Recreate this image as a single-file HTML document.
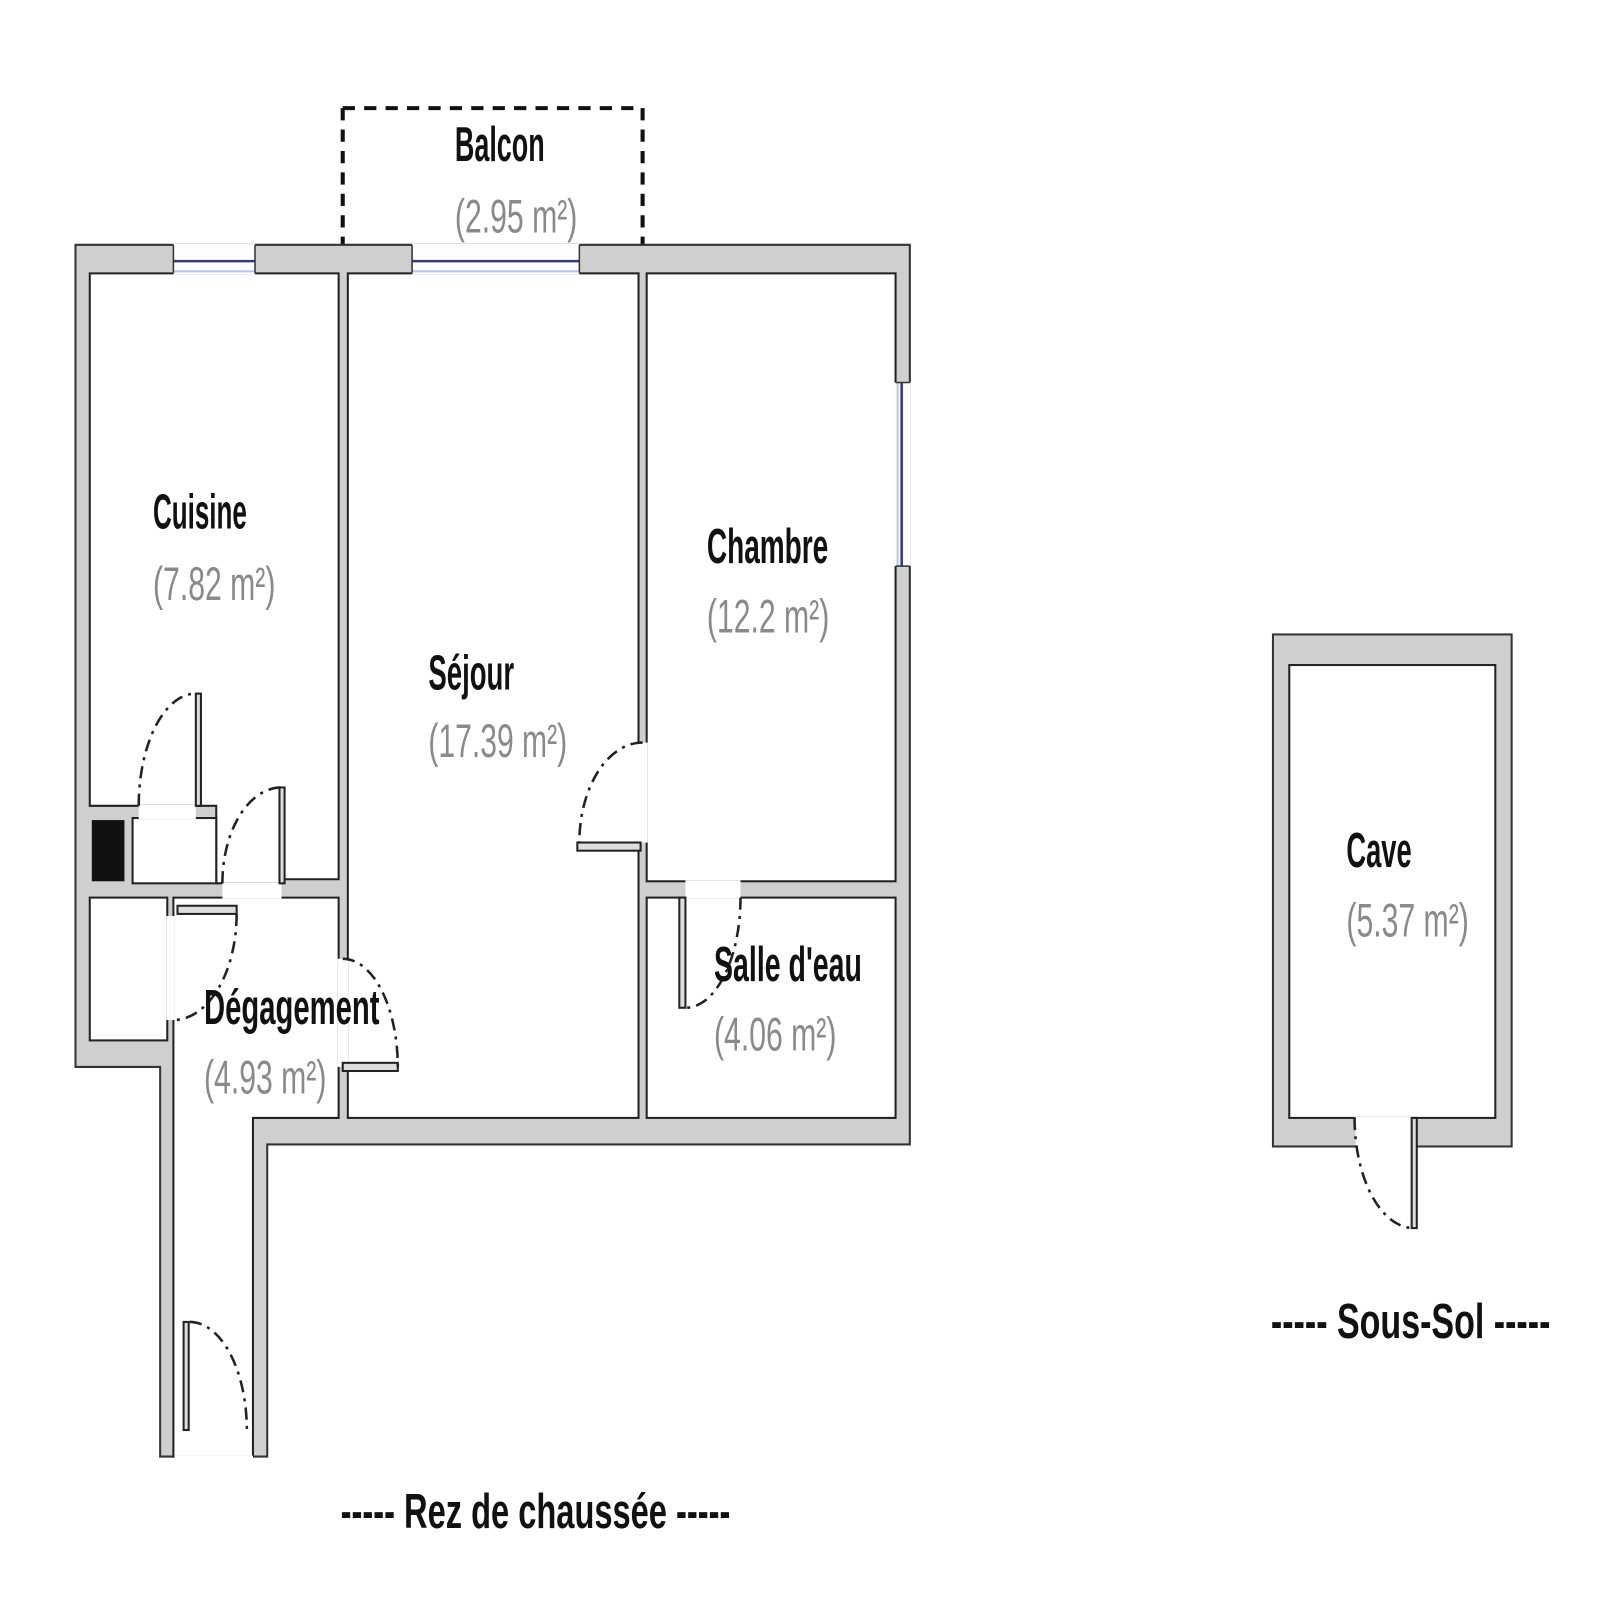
<!DOCTYPE html>
<html><head><meta charset="utf-8"><style>
html,body{margin:0;padding:0;background:#fff;}
svg{display:block}
text{font-family:"Liberation Sans Narrow","Liberation Sans",sans-serif;font-weight:bold;}
.g{fill:#8a8a8a;font-weight:normal}
</style></head><body>
<svg width="1600" height="1600" viewBox="0 0 1600 1600" xmlns="http://www.w3.org/2000/svg">
<rect width="1600" height="1600" fill="#fff"/>
<g transform="scale(1.02)">
<path d="M336 106 H630 M336 106 V240 M630 106 V240" fill="none" stroke="#111" stroke-width="4" stroke-dasharray="12 9"/>
<polygon points="74,240 892,240 892,1122 262,1122 262,1428 157,1428 157,1046 74,1046" fill="#cfcfcf" stroke="#333" stroke-width="2"/>
<g fill="#fff" stroke="#222" stroke-width="2">
<polygon points="88,268 332,268 332,862 278,862 278,866 212,866 212,790 88,790"/>
<rect x="341" y="268" width="285" height="828"/>
<rect x="634" y="268" width="244" height="596"/>
<rect x="634" y="880" width="244" height="216"/>
<polygon points="170,880 332,880 332,1096 248,1096 248,1428 170,1428"/>
<rect x="88" y="880" width="76" height="140"/>
<rect x="130" y="802" width="82" height="64"/>
</g>
<rect x="90" y="804" width="32" height="60" fill="#111"/>
<g fill="#fff">
<rect x="136" y="789" width="56" height="14"/>
<rect x="218" y="865" width="58" height="16"/>
<rect x="331" y="940" width="11" height="106"/>
<rect x="625" y="728" width="10" height="98"/>
<rect x="672" y="863" width="54" height="18"/>
<rect x="163" y="898" width="8" height="102"/>
<rect x="171" y="1427" width="77" height="3"/>
<rect x="1328" y="1095" width="58" height="28"/>
<rect x="170" y="239" width="80" height="30"/>
<rect x="404" y="239" width="164" height="30"/>
<rect x="877" y="375" width="16" height="180"/>
</g>
<g stroke="#3a3a7a" stroke-width="2.5">
<line x1="170" y1="256" x2="250" y2="256"/><line x1="404" y1="256" x2="568" y2="256"/>
<line x1="884" y1="375" x2="884" y2="555"/>
</g>
<g stroke="#bcc4ee" stroke-width="2">
<line x1="170" y1="266" x2="250" y2="266"/><line x1="404" y1="266" x2="568" y2="266"/>
<line x1="880" y1="375" x2="880" y2="555"/>
</g>
<g stroke="#333" stroke-width="1.5">
<line x1="170" y1="240" x2="170" y2="268"/><line x1="250" y1="240" x2="250" y2="268"/>
<line x1="404" y1="240" x2="404" y2="268"/><line x1="568" y1="240" x2="568" y2="268"/>
<line x1="878" y1="375" x2="892" y2="375"/><line x1="878" y1="555" x2="892" y2="555"/>
</g>
<rect x="1248" y="622" width="234" height="502" fill="#cfcfcf" stroke="#333" stroke-width="2"/>
<rect x="1264" y="652" width="202" height="444" fill="#fff" stroke="#222" stroke-width="2"/>
<rect x="1329" y="1095" width="56" height="30" fill="#fff"/>
<g fill="#ddd" stroke="#222" stroke-width="2">
<rect x="192" y="680" width="5" height="110"/>
<rect x="274" y="772" width="5" height="94"/>
<rect x="174" y="888" width="58" height="8"/>
<rect x="336" y="1042" width="54" height="8"/>
<rect x="566" y="826" width="62" height="8"/>
<rect x="666" y="880" width="6" height="108"/>
<rect x="180" y="1296" width="5" height="106"/>
<rect x="1384" y="1096" width="5" height="108"/>
</g>
<g fill="none" stroke="#222" stroke-width="2.5" stroke-dasharray="12 6 3 6">
<path d="M136 790 A56 110 0 0 1 192 680"/>
<path d="M218 866 A58 94 0 0 1 276 772"/>
<path d="M232 896 A62 104 0 0 1 170 1000"/>
<path d="M336 940 A54 106 0 0 1 390 1046"/>
<path d="M630 728 A62 98 0 0 0 568 826"/>
<path d="M726 880 A54 108 0 0 1 672 988"/>
<path d="M186 1296 A56 106 0 0 1 242 1402"/>
<path d="M1328 1096 A58 108 0 0 0 1386 1204"/>
</g>
<g font-size="48" fill="#111">
<text x="446" y="158" textLength="88" lengthAdjust="spacingAndGlyphs">Balcon</text>
<text x="150" y="518" textLength="92" lengthAdjust="spacingAndGlyphs">Cuisine</text>
<text x="693" y="552" textLength="119" lengthAdjust="spacingAndGlyphs">Chambre</text>
<text x="420" y="676" textLength="84" lengthAdjust="spacingAndGlyphs">Séjour</text>
<text x="700" y="962" textLength="145" lengthAdjust="spacingAndGlyphs">Salle d'eau</text>
<text x="200" y="1004" textLength="172" lengthAdjust="spacingAndGlyphs">Dégagement</text>
<text x="1320" y="850" textLength="64" lengthAdjust="spacingAndGlyphs">Cave</text>
<text x="1246" y="1312" textLength="274" lengthAdjust="spacingAndGlyphs">-----  Sous-Sol  -----</text>
<text x="334" y="1498" textLength="382" lengthAdjust="spacingAndGlyphs">-----  Rez de chaussée  -----</text>
</g>
<g font-size="46">
<text class="g" x="446" y="228" textLength="120" lengthAdjust="spacingAndGlyphs">(2.95 m²)</text>
<text class="g" x="150" y="588" textLength="120" lengthAdjust="spacingAndGlyphs">(7.82 m²)</text>
<text class="g" x="693" y="620" textLength="120" lengthAdjust="spacingAndGlyphs">(12.2 m²)</text>
<text class="g" x="420" y="742" textLength="136" lengthAdjust="spacingAndGlyphs">(17.39 m²)</text>
<text class="g" x="700" y="1030" textLength="120" lengthAdjust="spacingAndGlyphs">(4.06 m²)</text>
<text class="g" x="200" y="1072" textLength="120" lengthAdjust="spacingAndGlyphs">(4.93 m²)</text>
<text class="g" x="1320" y="918" textLength="120" lengthAdjust="spacingAndGlyphs">(5.37 m²)</text>
</g>
</g>
</svg>
</body></html>
